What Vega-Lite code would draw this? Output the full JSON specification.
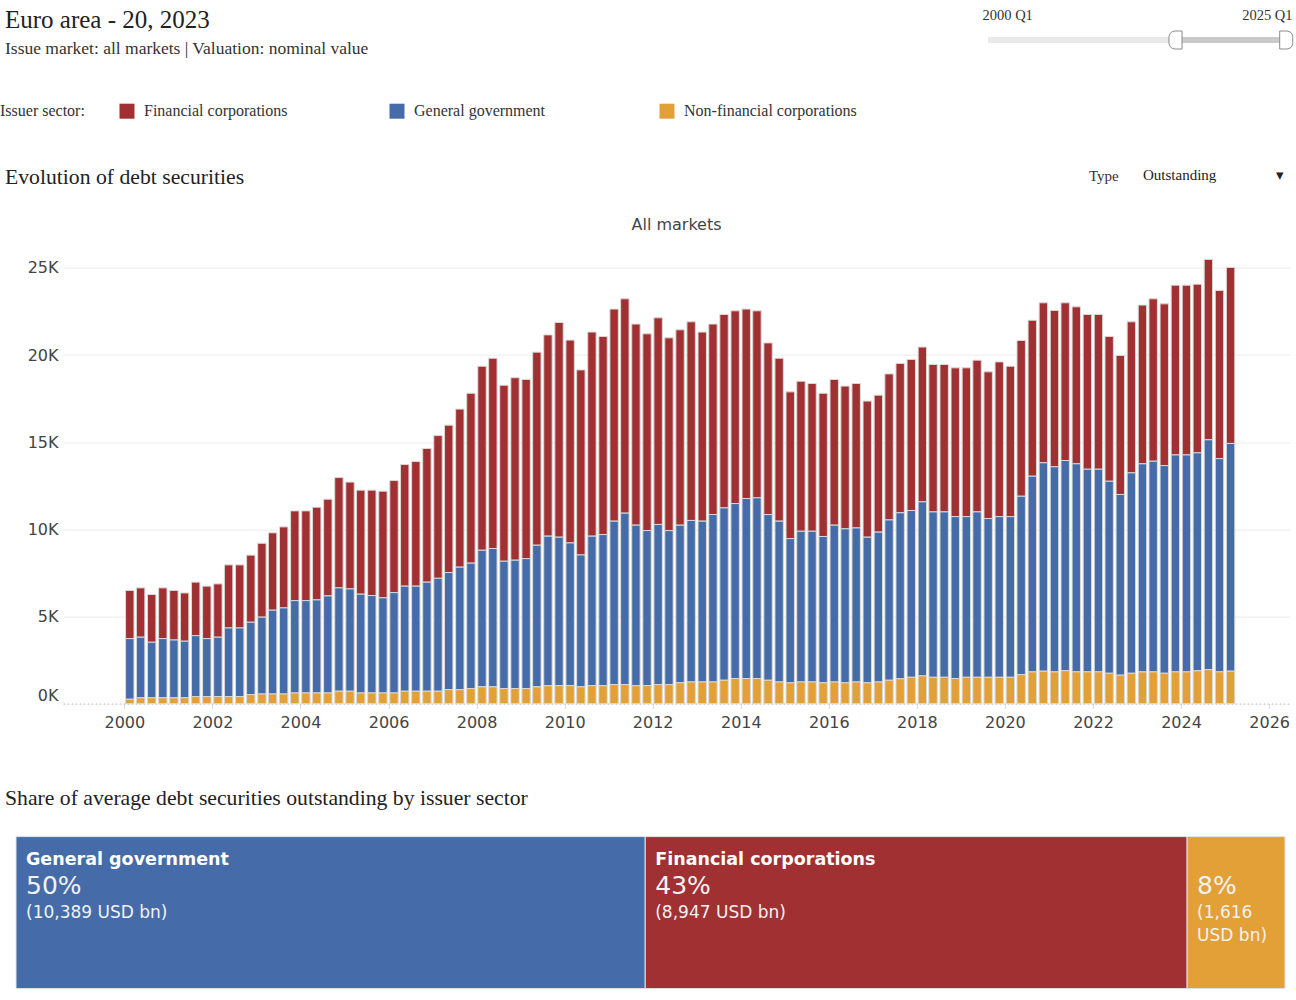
{
  "$schema": "https://vega.github.io/schema/vega-lite/v6.json",
  "background": "white",
  "padding": {"left": 0, "top": 7, "right": 4, "bottom": 10},
  "config": {
    "view": {"stroke": null},
    "font": "DejaVu Sans",
    "axis": {"labelFont": "DejaVu Sans", "labelFontSize": 16, "labelColor": "#444"},
    "legend": {
      "direction": "horizontal",
      "columns": 3,
      "gridAlign": "all",
      "columnPadding": 72,
      "padding": 0,
      "titleOrient": "left",
      "titleFont": "Liberation Serif",
      "titleFontSize": 16,
      "titleFontWeight": "normal",
      "titleColor": "#333",
      "titlePadding": 34,
      "titleBaseline": "middle",
      "labelFont": "Liberation Serif",
      "labelFontSize": 16,
      "labelColor": "#333",
      "labelOffset": 9,
      "labelLimit": 400,
      "symbolType": "square",
      "symbolSize": 225,
      "symbolStrokeWidth": 0,
      "symbolOpacity": 1
    }
  },
  "datasets": {
    "slider": [
      {"part": "track", "q": 2000, "q2": 2025},
      {"part": "selected", "q": 2015.75, "q2": 2025},
      {"part": "start", "q": 2015.75},
      {"part": "end", "q": 2025}
    ],
    "sectors": [
      {"key": "FC", "sector": "Financial corporations"},
      {"key": "GG", "sector": "General government"},
      {"key": "NFC", "sector": "Non-financial corporations"}
    ],
    "quarters": [
      {"date": "2000-02-15", "FC": 2760, "GG": 3480, "NFC": 250},
      {"date": "2000-05-15", "FC": 2830, "GG": 3480, "NFC": 330},
      {"date": "2000-08-15", "FC": 2740, "GG": 3190, "NFC": 330},
      {"date": "2000-11-15", "FC": 2910, "GG": 3400, "NFC": 330},
      {"date": "2001-02-15", "FC": 2840, "GG": 3320, "NFC": 330},
      {"date": "2001-05-15", "FC": 2770, "GG": 3250, "NFC": 330},
      {"date": "2001-08-15", "FC": 3070, "GG": 3500, "NFC": 400},
      {"date": "2001-11-15", "FC": 3010, "GG": 3330, "NFC": 400},
      {"date": "2002-02-15", "FC": 3060, "GG": 3410, "NFC": 400},
      {"date": "2002-05-15", "FC": 3620, "GG": 3940, "NFC": 400},
      {"date": "2002-08-15", "FC": 3620, "GG": 3940, "NFC": 400},
      {"date": "2002-11-15", "FC": 3850, "GG": 4150, "NFC": 520},
      {"date": "2003-02-15", "FC": 4240, "GG": 4410, "NFC": 550},
      {"date": "2003-05-15", "FC": 4440, "GG": 4810, "NFC": 550},
      {"date": "2003-08-15", "FC": 4650, "GG": 4940, "NFC": 550},
      {"date": "2003-11-15", "FC": 5150, "GG": 5300, "NFC": 610},
      {"date": "2004-02-15", "FC": 5150, "GG": 5300, "NFC": 610},
      {"date": "2004-05-15", "FC": 5320, "GG": 5340, "NFC": 610},
      {"date": "2004-08-15", "FC": 5550, "GG": 5570, "NFC": 610},
      {"date": "2004-11-15", "FC": 6330, "GG": 5930, "NFC": 710},
      {"date": "2005-02-15", "FC": 6130, "GG": 5870, "NFC": 710},
      {"date": "2005-05-15", "FC": 5970, "GG": 5670, "NFC": 610},
      {"date": "2005-08-15", "FC": 6050, "GG": 5590, "NFC": 610},
      {"date": "2005-11-15", "FC": 6120, "GG": 5460, "NFC": 610},
      {"date": "2006-02-15", "FC": 6430, "GG": 5760, "NFC": 610},
      {"date": "2006-05-15", "FC": 6980, "GG": 6030, "NFC": 710},
      {"date": "2006-08-15", "FC": 7150, "GG": 6030, "NFC": 710},
      {"date": "2006-11-15", "FC": 7670, "GG": 6260, "NFC": 710},
      {"date": "2007-02-15", "FC": 8190, "GG": 6480, "NFC": 710},
      {"date": "2007-05-15", "FC": 8460, "GG": 6720, "NFC": 800},
      {"date": "2007-08-15", "FC": 9070, "GG": 7030, "NFC": 800},
      {"date": "2007-11-15", "FC": 9750, "GG": 7200, "NFC": 860},
      {"date": "2008-02-15", "FC": 10560, "GG": 7840, "NFC": 960},
      {"date": "2008-05-15", "FC": 10920, "GG": 7940, "NFC": 960},
      {"date": "2008-08-15", "FC": 10100, "GG": 7310, "NFC": 860},
      {"date": "2008-11-15", "FC": 10470, "GG": 7370, "NFC": 860},
      {"date": "2009-02-15", "FC": 10280, "GG": 7460, "NFC": 860},
      {"date": "2009-05-15", "FC": 11080, "GG": 8130, "NFC": 960},
      {"date": "2009-08-15", "FC": 11550, "GG": 8580, "NFC": 1030},
      {"date": "2009-11-15", "FC": 12320, "GG": 8520, "NFC": 1030},
      {"date": "2010-02-15", "FC": 11640, "GG": 8190, "NFC": 1030},
      {"date": "2010-05-15", "FC": 10620, "GG": 7570, "NFC": 960},
      {"date": "2010-08-15", "FC": 11710, "GG": 8580, "NFC": 1030},
      {"date": "2010-11-15", "FC": 11370, "GG": 8670, "NFC": 1030},
      {"date": "2011-02-15", "FC": 12170, "GG": 9380, "NFC": 1090},
      {"date": "2011-05-15", "FC": 12300, "GG": 9840, "NFC": 1090},
      {"date": "2011-08-15", "FC": 11540, "GG": 9210, "NFC": 1030},
      {"date": "2011-11-15", "FC": 11290, "GG": 8900, "NFC": 1030},
      {"date": "2012-02-15", "FC": 11860, "GG": 9190, "NFC": 1090},
      {"date": "2012-05-15", "FC": 11060, "GG": 8840, "NFC": 1090},
      {"date": "2012-08-15", "FC": 11210, "GG": 9050, "NFC": 1190},
      {"date": "2012-11-15", "FC": 11400, "GG": 9270, "NFC": 1240},
      {"date": "2013-02-15", "FC": 10850, "GG": 9230, "NFC": 1240},
      {"date": "2013-05-15", "FC": 10930, "GG": 9610, "NFC": 1240},
      {"date": "2013-08-15", "FC": 11100, "GG": 9890, "NFC": 1340},
      {"date": "2013-11-15", "FC": 11060, "GG": 10040, "NFC": 1440},
      {"date": "2014-02-15", "FC": 10870, "GG": 10330, "NFC": 1440},
      {"date": "2014-05-15", "FC": 10730, "GG": 10370, "NFC": 1440},
      {"date": "2014-08-15", "FC": 9850, "GG": 9510, "NFC": 1340},
      {"date": "2014-11-15", "FC": 9350, "GG": 9230, "NFC": 1240},
      {"date": "2015-02-15", "FC": 8420, "GG": 8280, "NFC": 1190},
      {"date": "2015-05-15", "FC": 8610, "GG": 8650, "NFC": 1240},
      {"date": "2015-08-15", "FC": 8480, "GG": 8650, "NFC": 1240},
      {"date": "2015-11-15", "FC": 8220, "GG": 8400, "NFC": 1190},
      {"date": "2016-02-15", "FC": 8360, "GG": 9000, "NFC": 1240},
      {"date": "2016-05-15", "FC": 8190, "GG": 8840, "NFC": 1190},
      {"date": "2016-08-15", "FC": 8290, "GG": 8840, "NFC": 1240},
      {"date": "2016-11-15", "FC": 7810, "GG": 8360, "NFC": 1190},
      {"date": "2017-02-15", "FC": 7860, "GG": 8600, "NFC": 1240},
      {"date": "2017-05-15", "FC": 8380, "GG": 9200, "NFC": 1340},
      {"date": "2017-08-15", "FC": 8570, "GG": 9530, "NFC": 1420},
      {"date": "2017-11-15", "FC": 8670, "GG": 9570, "NFC": 1510},
      {"date": "2018-02-15", "FC": 8880, "GG": 9990, "NFC": 1590},
      {"date": "2018-05-15", "FC": 8460, "GG": 9490, "NFC": 1510},
      {"date": "2018-08-15", "FC": 8460, "GG": 9490, "NFC": 1510},
      {"date": "2018-11-15", "FC": 8540, "GG": 9290, "NFC": 1440},
      {"date": "2019-02-15", "FC": 8540, "GG": 9220, "NFC": 1510},
      {"date": "2019-05-15", "FC": 8710, "GG": 9490, "NFC": 1510},
      {"date": "2019-08-15", "FC": 8420, "GG": 9110, "NFC": 1510},
      {"date": "2019-11-15", "FC": 8880, "GG": 9220, "NFC": 1510},
      {"date": "2020-02-15", "FC": 8630, "GG": 9220, "NFC": 1510},
      {"date": "2020-05-15", "FC": 8940, "GG": 10240, "NFC": 1660},
      {"date": "2020-08-15", "FC": 8950, "GG": 11230, "NFC": 1820},
      {"date": "2020-11-15", "FC": 9180, "GG": 11960, "NFC": 1860},
      {"date": "2021-02-15", "FC": 8970, "GG": 11770, "NFC": 1820},
      {"date": "2021-05-15", "FC": 9050, "GG": 12060, "NFC": 1890},
      {"date": "2021-08-15", "FC": 9010, "GG": 11940, "NFC": 1820},
      {"date": "2021-11-15", "FC": 8880, "GG": 11630, "NFC": 1820},
      {"date": "2022-02-15", "FC": 8880, "GG": 11630, "NFC": 1820},
      {"date": "2022-05-15", "FC": 8310, "GG": 11020, "NFC": 1740},
      {"date": "2022-08-15", "FC": 7980, "GG": 10370, "NFC": 1630},
      {"date": "2022-11-15", "FC": 8670, "GG": 11500, "NFC": 1740},
      {"date": "2023-02-15", "FC": 9110, "GG": 11940, "NFC": 1820},
      {"date": "2023-05-15", "FC": 9320, "GG": 12090, "NFC": 1820},
      {"date": "2023-08-15", "FC": 9280, "GG": 11920, "NFC": 1740},
      {"date": "2023-11-15", "FC": 9740, "GG": 12450, "NFC": 1820},
      {"date": "2024-02-15", "FC": 9740, "GG": 12450, "NFC": 1820},
      {"date": "2024-05-15", "FC": 9680, "GG": 12510, "NFC": 1880},
      {"date": "2024-08-15", "FC": 10350, "GG": 13190, "NFC": 1950},
      {"date": "2024-11-15", "FC": 9650, "GG": 12240, "NFC": 1820},
      {"date": "2025-02-15", "FC": 10100, "GG": 13070, "NFC": 1860}
    ],
    "shares": [
      {"sector": "General government", "value": 10389},
      {"sector": "Financial corporations", "value": 8947},
      {"sector": "Non-financial corporations", "value": 1616}
    ]
  },
  "spacing": 108.6,
  "vconcat": [
    {
      "width": 1227,
      "height": 16,
      "title": {
        "text": "Euro area - 20, 2023",
        "subtitle": "Issue market: all markets | Valuation: nominal value",
        "anchor": "start",
        "frame": "group",
        "dx": -58,
        "offset": -50.7,
        "font": "Liberation Serif",
        "fontSize": 25,
        "fontWeight": "normal",
        "color": "#222",
        "subtitleFont": "Liberation Serif",
        "subtitleFontSize": 17.5,
        "subtitleColor": "#333",
        "subtitlePadding": 7
      },
      "data": {"name": "slider"},
      "encoding": {
        "x": {
          "field": "q",
          "type": "quantitative",
          "scale": {"domain": [2000, 2025], "range": [925, 1223], "nice": false, "zero": false},
          "axis": {
            "orient": "top",
            "title": null,
            "values": [2000, 2025],
            "labelExpr": "floor(datum.value) + ' Q' + (round((datum.value - floor(datum.value)) * 4) + 1)",
            "domain": false,
            "ticks": false,
            "grid": false,
            "labelFont": "Liberation Serif",
            "labelFontSize": 14.5,
            "labelColor": "#333",
            "labelPadding": 10,
            "labelFlush": true,
            "labelFlushOffset": 6
          }
        },
        "y": {"datum": 0.5, "type": "quantitative", "scale": {"domain": [0, 1]}, "axis": null}
      },
      "layer": [
        {
          "transform": [{"filter": "datum.part === 'track'"}],
          "mark": {"type": "rule", "strokeWidth": 6, "color": "#e9e9e9"},
          "encoding": {"x2": {"field": "q2"}}
        },
        {
          "transform": [{"filter": "datum.part === 'selected'"}],
          "mark": {"type": "rule", "strokeWidth": 6, "color": "#c9c9c9"},
          "encoding": {"x2": {"field": "q2"}}
        },
        {
          "transform": [{"filter": "datum.part === 'start'"}],
          "mark": {"type": "point", "shape": "M0.7,-1 L-0.1,-1 A0.65,0.65 0 0,0 -0.75,-0.35 L-0.75,0.35 A0.65,0.65 0 0,0 -0.1,1 L0.7,1 Z", "size": 324, "filled": true, "fill": "#ffffff", "stroke": "#8a8a8a", "strokeWidth": 1, "opacity": 1},
          "encoding": {}
        },
        {
          "transform": [{"filter": "datum.part === 'end'"}],
          "mark": {"type": "point", "shape": "M-0.7,-1 L0.1,-1 A0.65,0.65 0 0,1 0.75,-0.35 L0.75,0.35 A0.65,0.65 0 0,1 0.1,1 L-0.7,1 Z", "size": 324, "filled": true, "fill": "#ffffff", "stroke": "#8a8a8a", "strokeWidth": 1, "opacity": 1},
          "encoding": {}
        }
      ]
    },
    {
      "spacing": 57,
      "vconcat": [
        {
          "title": {
            "text": "Evolution of debt securities",
            "anchor": "start",
            "frame": "group",
            "dx": -58,
            "offset": 28,
            "font": "Liberation Serif",
            "fontSize": 21.7,
            "fontWeight": "normal",
            "color": "#222"
          },
          "vconcat": [
            {
              "width": 1227,
              "height": 467,
              "title": {
                "text": "All markets",
                "anchor": "middle",
                "frame": "group",
                "offset": 3.5,
                "font": "DejaVu Sans",
                "fontSize": 16,
                "fontWeight": "normal",
                "color": "#444"
              },
              "data": {"name": "quarters"},
              "transform": [
                {"fold": ["FC", "GG", "NFC"], "as": ["key", "value"]},
                {"lookup": "key", "from": {"data": {"name": "sectors"}, "key": "key", "fields": ["sector"]}},
                {"calculate": "'Outstanding'", "as": "type"}
              ],
              "mark": {"type": "bar", "size": 8.4, "stroke": "#d8d8d8", "strokeWidth": 1},
              "encoding": {
                "x": {
                  "field": "date",
                  "type": "temporal",
                  "scale": {"domain": [{"year": 1998, "month": 8, "date": 10}, {"year": 2026, "month": 6, "date": 23}], "padding": 0},
                  "axis": {
                    "title": null,
                    "format": "%Y",
                    "tickCount": {"interval": "year", "step": 2},
                    "grid": false,
                    "domainColor": "#bdbdbd",
                    "domainDash": [2, 2],
                    "tickColor": "#dcdcdc",
                    "tickSize": 5,
                    "labelPadding": 6,
                    "labelFlush": false
                  }
                },
                "y": {
                  "field": "value",
                  "type": "quantitative",
                  "stack": "zero",
                  "scale": {"domain": [0, 26800], "nice": false},
                  "axis": {
                    "title": null,
                    "values": [0, 5000, 10000, 15000, 20000, 25000],
                    "labelExpr": "(datum.value / 1000) + 'K'",
                    "domain": false,
                    "ticks": false,
                    "labelPadding": 5,
                    "gridColor": {"condition": {"test": "datum.value === 0", "value": "transparent"}, "value": "#ebebeb"},
                    "labelBaseline": {"condition": {"test": "datum.value === 0", "value": "bottom"}, "value": "middle"}
                  }
                },
                "color": {
                  "field": "sector",
                  "type": "nominal",
                  "scale": {
                    "domain": ["Financial corporations", "General government", "Non-financial corporations"],
                    "range": ["#A13032", "#456CA8", "#E3A037"]
                  },
                  "legend": {"title": "Issuer sector:", "orient": "none", "legendX": -63, "legendY": 71.2}
                },
                "opacity": {
                  "field": "type",
                  "type": "nominal",
                  "scale": {"domain": ["Outstanding"], "range": [1]},
                  "legend": {
                    "title": "Type",
                    "orient": "none",
                    "legendX": 1026,
                    "legendY": 135.6,
                    "titleFontSize": 15,
                    "titlePadding": 9,
                    "labelFontSize": 15,
                    "labelColor": "#222",
                    "labelOffset": 0,
                    "symbolSize": 0,
                    "symbolOpacity": 0,
                    "labelExpr": "datum.label + '\u00a0\u00a0\u00a0\u00a0\u00a0\u00a0\u00a0\u00a0\u00a0\u00a0\u00a0\u00a0\u00a0\u00a0\u00a0\u00a0▾'"
                  }
                },
                "order": {"field": "sector", "sort": "descending"}
              }
            }
          ]
        },
        {
          "width": 1227,
          "height": 152,
          "title": {
            "text": "Share of average debt securities outstanding by issuer sector",
            "anchor": "start",
            "frame": "group",
            "dx": -58,
            "offset": 26,
            "font": "Liberation Serif",
            "fontSize": 21.7,
            "fontWeight": "normal",
            "color": "#222"
          },
          "data": {"name": "shares"},
          "transform": [
            {"joinaggregate": [{"op": "sum", "field": "value", "as": "total"}]},
            {"stack": "value", "groupby": [], "sort": [{"field": "value", "order": "descending"}], "as": ["x0", "x1"]},
            {"calculate": "datum.value / datum.total", "as": "share"},
            {"calculate": "format(datum.share, '.0%')", "as": "pct"},
            {"calculate": "datum.share < 0.1 ? '(' + format(datum.value, ',') + '\\nUSD bn)' : '(' + format(datum.value, ',') + ' USD bn)'", "as": "amount"}
          ],
          "encoding": {
            "x": {"field": "x0", "type": "quantitative", "scale": {"domain": [776, 21034.6], "nice": false, "zero": false}, "axis": null},
            "y": {"datum": 1, "type": "quantitative", "scale": {"domain": [0, 1], "nice": false}, "axis": null}
          },
          "layer": [
            {
              "mark": {"type": "rect", "stroke": "#e4e4e4", "strokeWidth": 1},
              "encoding": {
                "x2": {"field": "x1"},
                "y": {"datum": 0, "type": "quantitative"},
                "y2": {"datum": 1},
                "color": {
                  "field": "sector",
                  "type": "nominal",
                  "scale": {
                    "domain": ["Financial corporations", "General government", "Non-financial corporations"],
                    "range": ["#A13032", "#456CA8", "#E3A037"]
                  },
                  "legend": {"title": "Issuer sector:", "orient": "none", "legendX": -63, "legendY": 71.2}
                }
              }
            },
            {
              "transform": [{"filter": "datum.share >= 0.1"}],
              "mark": {"type": "text", "align": "left", "baseline": "middle", "dx": 10, "dy": 23, "font": "DejaVu Sans", "fontSize": 17.5, "fontWeight": "bold", "color": "#ffffff"},
              "encoding": {"text": {"field": "sector"}}
            },
            {
              "mark": {"type": "text", "align": "left", "baseline": "middle", "dx": 10, "dy": 49, "font": "DejaVu Sans", "fontSize": 25, "color": "#f2f2f2"},
              "encoding": {"text": {"field": "pct"}}
            },
            {
              "mark": {"type": "text", "align": "left", "baseline": "top", "dx": 10, "dy": 68, "font": "DejaVu Sans", "fontSize": 17, "lineHeight": 23, "lineBreak": "\n", "color": "#f2f2f2"},
              "encoding": {"text": {"field": "amount"}}
            }
          ]
        }
      ]
    }
  ]
}
